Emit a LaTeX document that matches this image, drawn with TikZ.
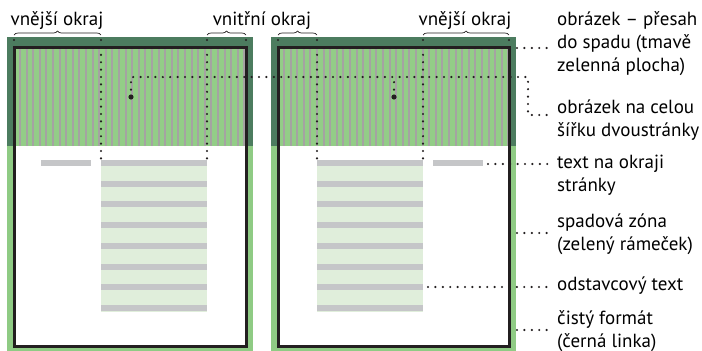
\documentclass[tikz,border=0pt]{standalone}
\usepackage{fontspec}
\setmainfont{PT Sans}
\usetikzlibrary{decorations.pathreplacing}
\definecolor{bleedgreen}{HTML}{8FCB84}
\definecolor{darkgreen}{HTML}{4C7C5F}
\definecolor{stripegreen}{HTML}{93CD87}
\definecolor{stripegray}{HTML}{A5A3A2}
\definecolor{colgreen}{HTML}{E0EEDB}
\definecolor{bargray}{HTML}{C5C6C8}
\definecolor{trimblack}{HTML}{231F20}

\begin{document}
\begin{tikzpicture}[x=1pt,y=-1pt,
		dotline/.style={line width=2.4pt, line cap=round, dash pattern=on 0pt off 7.4pt, trimblack},
		lbl/.style={anchor=base west, inner sep=0pt, align=left, font=\fontsize{19}{23}\selectfont},
		toplbl/.style={anchor=base, inner sep=0pt, font=\fontsize{19}{23}\selectfont},
		margbrace/.style={decorate, decoration={brace, amplitude=4pt}, line width=0.7pt, trimblack}]
		\useasboundingbox (0,0) rectangle (702,351);
		% pages
		\foreach \l/\r/\il/\ir/\sa/\sb in {7/253/14/246/19/25.6, 271/516/278/509/283/289.6} {
			\fill [bleedgreen] (\l,37) rectangle (\r,360);
			\fill [darkgreen] (\l,37) rectangle (\r,146);
			\fill [white] (\il,146) rectangle (\ir,346);
			\fill [stripegreen] (\il,47) rectangle (\ir,146);
			\foreach \x in {\sa,\sb,...,\ir}
				\fill [stripegray] (\x,47) rectangle ++(2,99);
		}
		% text columns
		\foreach \c in {101, 317} {
			\fill [colgreen] (\c,160) rectangle ++(106,152);
			\foreach \i in {0,...,7}
				\fill [bargray] (\c,{160+20.7*\i}) rectangle ++(106,6);
		}
		\fill [bargray] (41,160) rectangle (91,166);
		\fill [bargray] (433,160) rectangle (483,166);
		\draw [trimblack, line width=3pt] (14,47) rectangle (246,346);
		\draw [trimblack, line width=3pt] (278,47) rectangle (509,346);
		% margins
		\draw [margbrace] (14,35) -- (101,35);
		\draw [margbrace] (207,35) -- (246,35);
		\draw [margbrace] (278,35) -- (317,35);
		\draw [margbrace] (423,35) -- (509,35);
		\node [toplbl] (outerL) at (57,25) {vnější okraj};
		\node [toplbl] (inner) at (262,25) {vnitřní okraj};
		\node [toplbl] (outerR) at (465,25) {vnější okraj};
		\foreach \x in {14, 246, 278, 509}
			\fill [trimblack] (\x,40) circle (1.2);
		\foreach \x in {101, 207, 317, 423}
			\draw [dotline] (\x,40) -- (\x,161);
		% labels (base = last line)
		\node [lbl] (lblA) at (557,71) {obrázek – přesah\\do spadu (tmavě\\zelenná plocha)};
		\node [lbl] (lblB) at (557,136) {obrázek na celou\\šířku dvoustránky};
		\node [lbl] (lblC) at (557,191) {text na okraji\\stránky};
		\node [lbl] (lblD) at (557,250) {spadová zóna\\(zelený rámeček)};
		\node [lbl] (lblE) at (557,290) {odstavcový text};
		\node [lbl] (lblF) at (557,347) {čistý formát\\(černá linka)};
		% connectors
		\coordinate (markL) at (131,97);
		\coordinate (markR) at (394,97);
		\coordinate (bleedR) at (517,48);
		\coordinate (marginR) at (488,164);
		\coordinate (frameG) at (517,233);
		\coordinate (column) at (428,287);
		\coordinate (frameK) at (517,330);
		\fill [trimblack] (markL) circle (2.6);
		\fill [trimblack] (markR) circle (2.6);
		\draw [dotline] (markL) -- (131,77) -- (528,77) -- (528,115) -- ([xshift=-9pt]lblB.west |- 0,115);
		\draw [dotline] (markR) -- (394,77);
		\draw [dotline] (bleedR) -- ([xshift=-8pt]lblA.west |- bleedR);
		\draw [dotline] (marginR) -- ([xshift=-8pt]lblC.west |- marginR);
		\draw [dotline] (frameG) -- ([xshift=-8pt]lblD.west |- frameG);
		\draw [dotline] (column) -- ([xshift=-8pt]lblE.west |- column);
		\draw [dotline] (frameK) -- ([xshift=-8pt]lblF.west |- frameK);
	\end{tikzpicture}
\end{document}
